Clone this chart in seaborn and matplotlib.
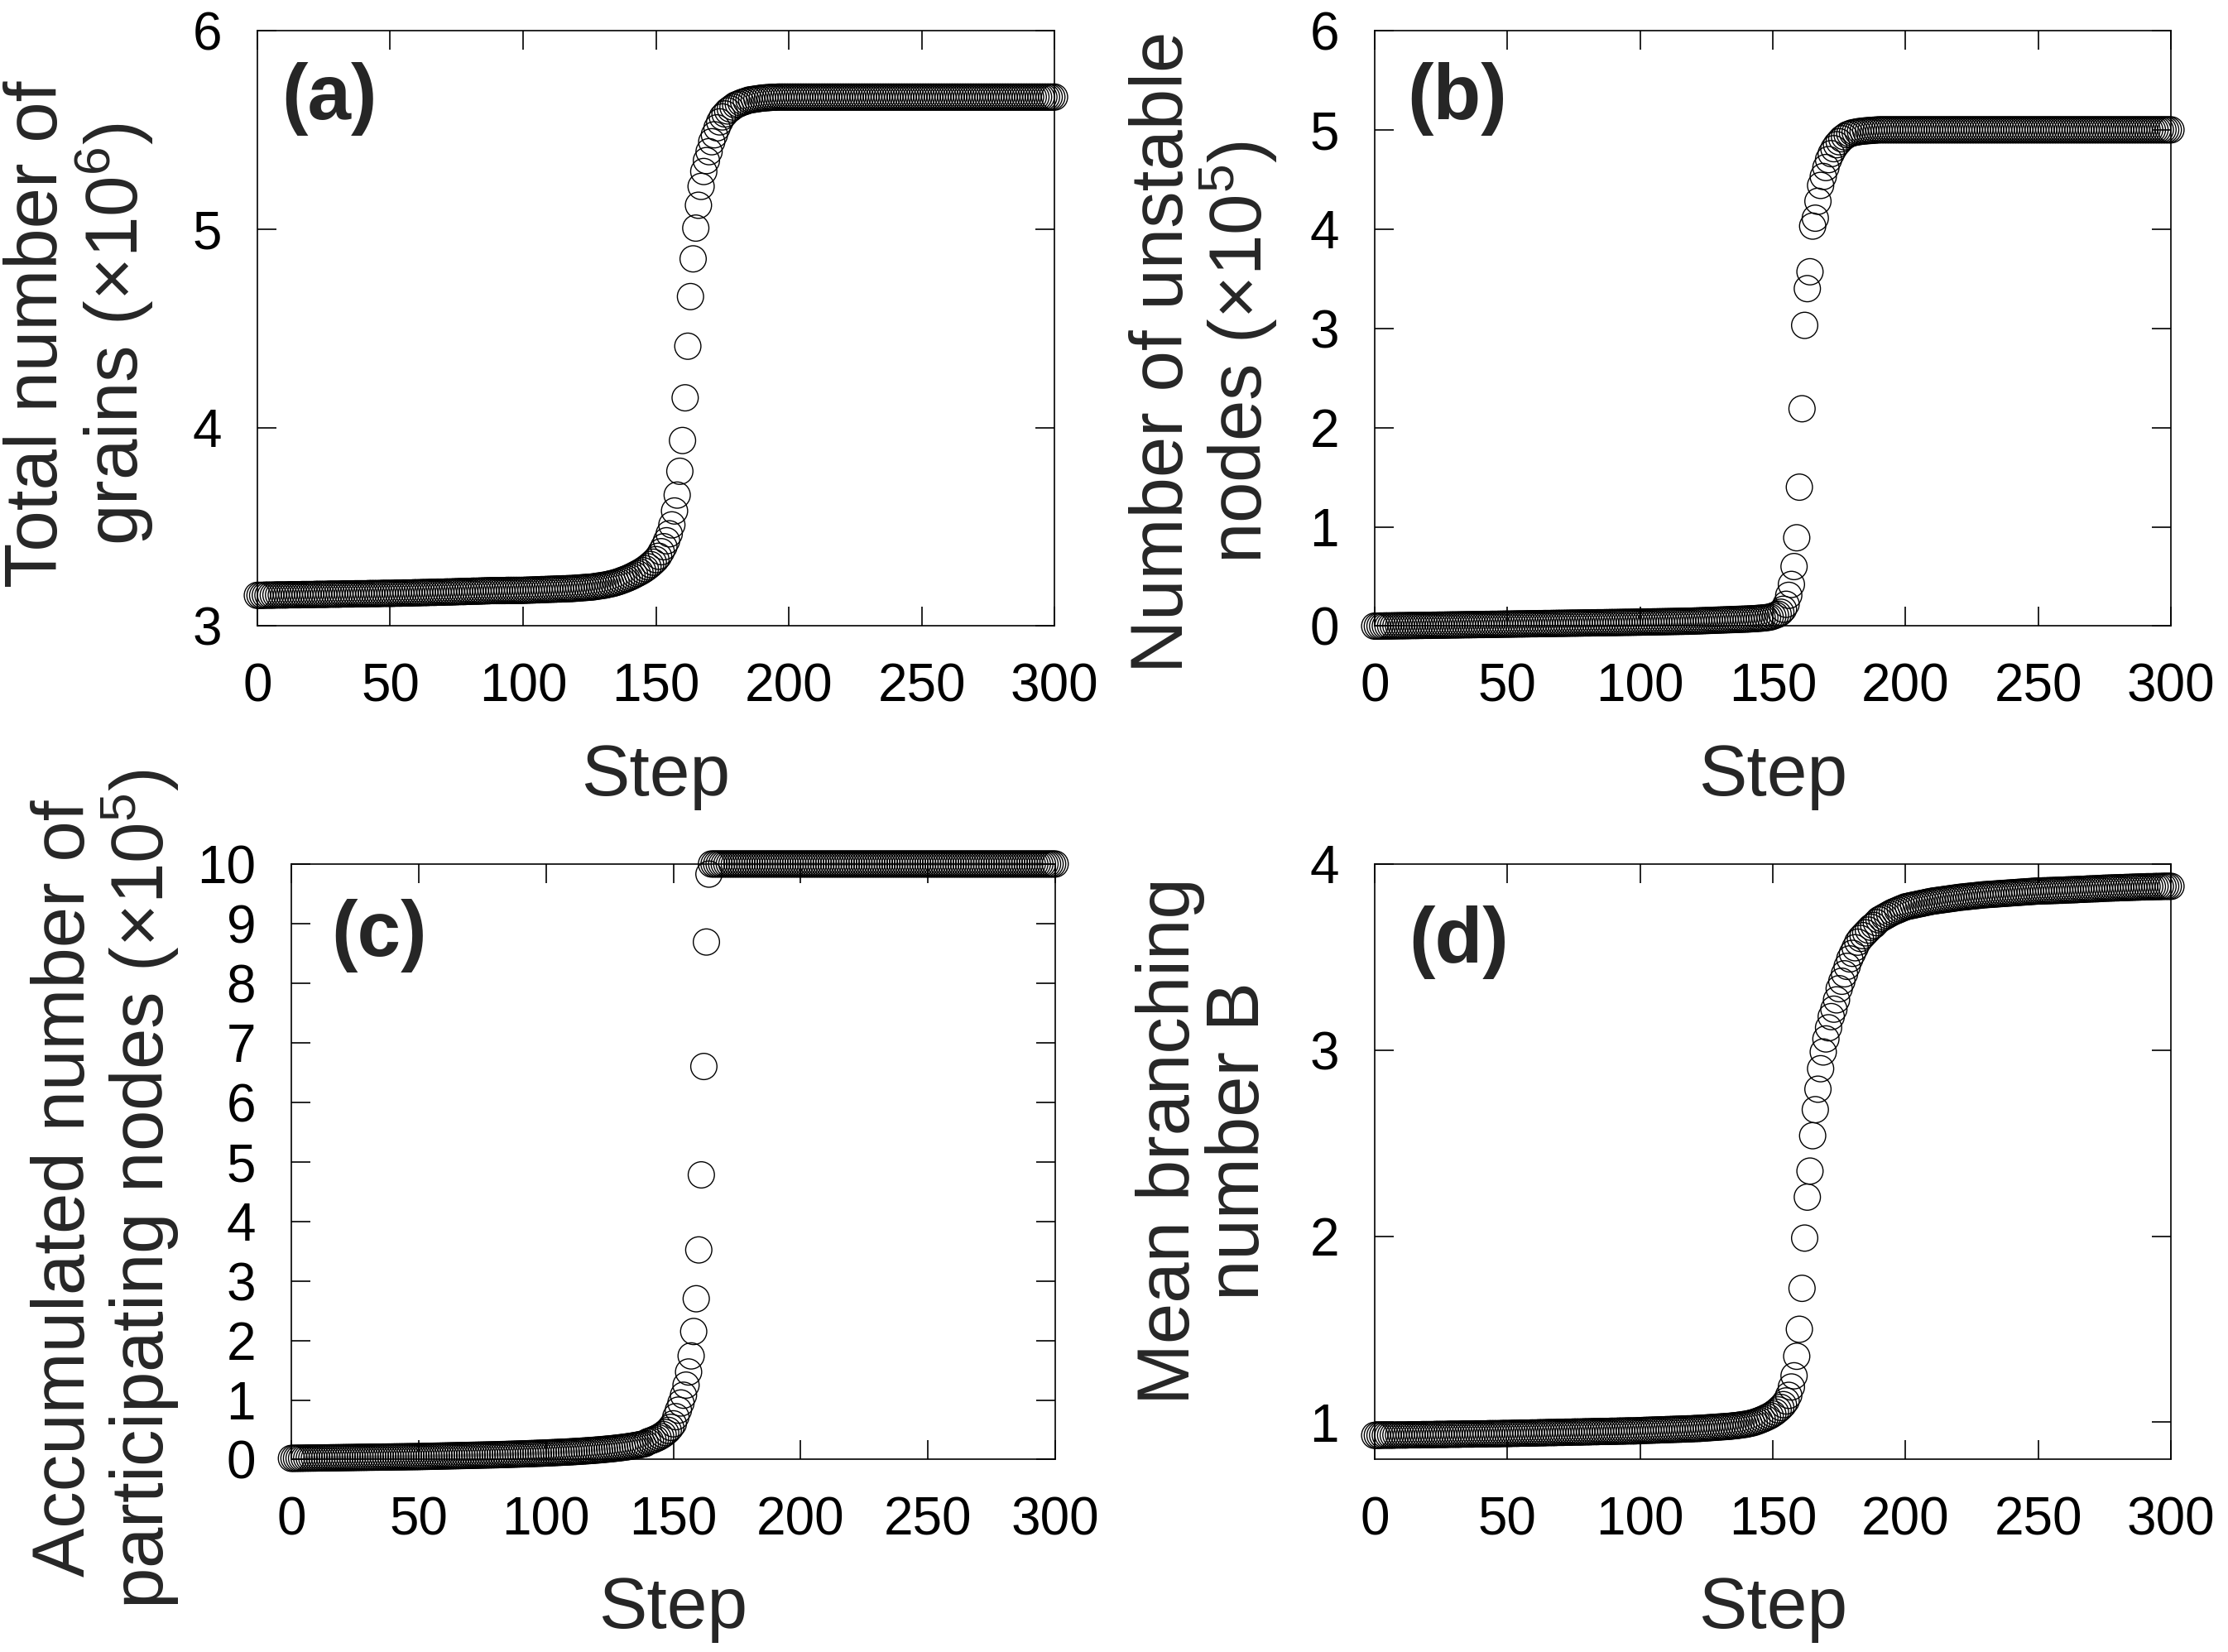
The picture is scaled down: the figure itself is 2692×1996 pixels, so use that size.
import matplotlib
matplotlib.use("Agg")
import matplotlib.pyplot as plt
import seaborn as sns

# step index of every point (one point per step)
steps = list(range(301))

# (a) total number of grains, x10^6
grains = [
    3.155, 3.155, 3.155, 3.156, 3.156, 3.156, 3.156, 3.157, 3.157, 3.157,
    3.157, 3.157, 3.158, 3.158, 3.158, 3.158, 3.158, 3.159, 3.159, 3.159,
    3.159, 3.159, 3.160, 3.160, 3.160, 3.160, 3.160, 3.161, 3.161, 3.161,
    3.161, 3.161, 3.162, 3.162, 3.162, 3.162, 3.162, 3.163, 3.163, 3.163,
    3.163, 3.163, 3.164, 3.164, 3.164, 3.164, 3.164, 3.165, 3.165, 3.165,
    3.165, 3.165, 3.166, 3.166, 3.166, 3.167, 3.167, 3.167, 3.167, 3.168,
    3.168, 3.168, 3.169, 3.169, 3.169, 3.170, 3.170, 3.170, 3.171, 3.171,
    3.171, 3.172, 3.172, 3.172, 3.173, 3.173, 3.174, 3.174, 3.174, 3.175,
    3.175, 3.176, 3.176, 3.176, 3.177, 3.177, 3.178, 3.178, 3.179, 3.179,
    3.179, 3.179, 3.179, 3.179, 3.180, 3.180, 3.180, 3.180, 3.180, 3.180,
    3.180, 3.181, 3.181, 3.182, 3.182, 3.183, 3.183, 3.184, 3.184, 3.185,
    3.185, 3.186, 3.186, 3.187, 3.187, 3.188, 3.188, 3.189, 3.189, 3.190,
    3.191, 3.192, 3.193, 3.194, 3.195, 3.196, 3.197, 3.199, 3.201, 3.203,
    3.205, 3.207, 3.210, 3.213, 3.216, 3.220, 3.224, 3.229, 3.234, 3.239,
    3.245, 3.251, 3.258, 3.265, 3.272, 3.280, 3.289, 3.299, 3.310, 3.322,
    3.335, 3.352, 3.375, 3.400, 3.430, 3.465, 3.510, 3.580, 3.660, 3.780,
    3.935, 4.150, 4.410, 4.660, 4.850, 5.005, 5.120, 5.215, 5.290, 5.345,
    5.390, 5.440, 5.475, 5.510, 5.540, 5.565, 5.580, 5.595, 5.605, 5.615,
    5.625, 5.630, 5.636, 5.641, 5.645, 5.650, 5.652, 5.654, 5.656, 5.658,
    5.660, 5.661, 5.662, 5.663, 5.664, 5.664, 5.665, 5.665, 5.665, 5.665,
    5.665, 5.665, 5.665, 5.665, 5.665, 5.665, 5.665, 5.665, 5.665, 5.665,
    5.665, 5.665, 5.665, 5.665, 5.665, 5.665, 5.665, 5.665, 5.665, 5.665,
    5.665, 5.665, 5.665, 5.665, 5.665, 5.665, 5.665, 5.665, 5.665, 5.665,
    5.665, 5.665, 5.665, 5.665, 5.665, 5.665, 5.665, 5.665, 5.665, 5.665,
    5.665, 5.665, 5.665, 5.665, 5.665, 5.665, 5.665, 5.665, 5.665, 5.665,
    5.665, 5.665, 5.665, 5.665, 5.665, 5.665, 5.665, 5.665, 5.665, 5.665,
    5.665, 5.665, 5.665, 5.665, 5.665, 5.665, 5.665, 5.665, 5.665, 5.665,
    5.665, 5.665, 5.665, 5.665, 5.665, 5.665, 5.665, 5.665, 5.665, 5.665,
    5.665, 5.665, 5.665, 5.665, 5.665, 5.665, 5.665, 5.665, 5.665, 5.665,
    5.665, 5.665, 5.665, 5.665, 5.665, 5.665, 5.665, 5.665, 5.665, 5.665,
    5.665,
]

# (b) number of unstable nodes, x10^5
unstable = [
    0.000, 0.000, 0.001, 0.001, 0.002, 0.002, 0.002, 0.003, 0.003, 0.004,
    0.004, 0.004, 0.005, 0.005, 0.006, 0.006, 0.006, 0.007, 0.007, 0.008,
    0.008, 0.008, 0.009, 0.009, 0.010, 0.010, 0.010, 0.011, 0.011, 0.012,
    0.012, 0.012, 0.013, 0.013, 0.014, 0.014, 0.014, 0.015, 0.015, 0.016,
    0.016, 0.016, 0.017, 0.017, 0.018, 0.018, 0.018, 0.019, 0.019, 0.020,
    0.020, 0.020, 0.021, 0.021, 0.022, 0.022, 0.022, 0.023, 0.023, 0.024,
    0.024, 0.024, 0.025, 0.025, 0.026, 0.026, 0.026, 0.027, 0.027, 0.028,
    0.028, 0.028, 0.029, 0.029, 0.030, 0.030, 0.030, 0.031, 0.031, 0.032,
    0.032, 0.032, 0.033, 0.033, 0.034, 0.034, 0.034, 0.035, 0.035, 0.036,
    0.036, 0.036, 0.037, 0.037, 0.038, 0.038, 0.038, 0.039, 0.039, 0.040,
    0.040, 0.041, 0.041, 0.042, 0.042, 0.043, 0.043, 0.044, 0.044, 0.045,
    0.045, 0.046, 0.046, 0.047, 0.047, 0.048, 0.048, 0.049, 0.049, 0.050,
    0.051, 0.052, 0.053, 0.054, 0.055, 0.056, 0.057, 0.058, 0.059, 0.060,
    0.061, 0.062, 0.063, 0.064, 0.065, 0.066, 0.067, 0.068, 0.069, 0.070,
    0.071, 0.072, 0.074, 0.075, 0.077, 0.079, 0.081, 0.084, 0.087, 0.091,
    0.100, 0.110, 0.120, 0.140, 0.170, 0.220, 0.310, 0.420, 0.600, 0.890,
    1.400, 2.190, 3.030, 3.400, 3.570, 4.030, 4.110, 4.280, 4.440, 4.530,
    4.620, 4.700, 4.760, 4.810, 4.850, 4.880, 4.910, 4.930, 4.950, 4.960,
    4.970, 4.975, 4.980, 4.984, 4.987, 4.990, 4.992, 4.994, 4.996, 4.998,
    5.000, 5.000, 5.000, 5.000, 5.000, 5.000, 5.000, 5.000, 5.000, 5.000,
    5.000, 5.000, 5.000, 5.000, 5.000, 5.000, 5.000, 5.000, 5.000, 5.000,
    5.000, 5.000, 5.000, 5.000, 5.000, 5.000, 5.000, 5.000, 5.000, 5.000,
    5.000, 5.000, 5.000, 5.000, 5.000, 5.000, 5.000, 5.000, 5.000, 5.000,
    5.000, 5.000, 5.000, 5.000, 5.000, 5.000, 5.000, 5.000, 5.000, 5.000,
    5.000, 5.000, 5.000, 5.000, 5.000, 5.000, 5.000, 5.000, 5.000, 5.000,
    5.000, 5.000, 5.000, 5.000, 5.000, 5.000, 5.000, 5.000, 5.000, 5.000,
    5.000, 5.000, 5.000, 5.000, 5.000, 5.000, 5.000, 5.000, 5.000, 5.000,
    5.000, 5.000, 5.000, 5.000, 5.000, 5.000, 5.000, 5.000, 5.000, 5.000,
    5.000, 5.000, 5.000, 5.000, 5.000, 5.000, 5.000, 5.000, 5.000, 5.000,
    5.000, 5.000, 5.000, 5.000, 5.000, 5.000, 5.000, 5.000, 5.000, 5.000,
    5.000,
]

# (c) accumulated number of participating nodes, x10^5
accumulated = [
    0.020, 0.021, 0.021, 0.022, 0.022, 0.023, 0.024, 0.024, 0.025, 0.025,
    0.026, 0.027, 0.027, 0.028, 0.028, 0.029, 0.030, 0.030, 0.031, 0.031,
    0.032, 0.033, 0.033, 0.034, 0.034, 0.035, 0.036, 0.036, 0.037, 0.037,
    0.038, 0.039, 0.039, 0.040, 0.040, 0.041, 0.042, 0.042, 0.043, 0.043,
    0.044, 0.045, 0.045, 0.046, 0.046, 0.047, 0.048, 0.048, 0.049, 0.049,
    0.050, 0.051, 0.052, 0.053, 0.054, 0.055, 0.056, 0.057, 0.058, 0.059,
    0.060, 0.061, 0.062, 0.063, 0.064, 0.065, 0.066, 0.067, 0.068, 0.069,
    0.070, 0.071, 0.072, 0.073, 0.074, 0.075, 0.076, 0.077, 0.078, 0.079,
    0.080, 0.081, 0.083, 0.084, 0.085, 0.087, 0.088, 0.089, 0.091, 0.092,
    0.094, 0.095, 0.097, 0.098, 0.100, 0.101, 0.103, 0.105, 0.106, 0.108,
    0.110, 0.112, 0.114, 0.116, 0.118, 0.120, 0.122, 0.124, 0.126, 0.128,
    0.131, 0.133, 0.136, 0.138, 0.141, 0.144, 0.147, 0.150, 0.153, 0.156,
    0.160, 0.163, 0.167, 0.171, 0.175, 0.179, 0.183, 0.188, 0.193, 0.198,
    0.203, 0.209, 0.215, 0.221, 0.228, 0.235, 0.243, 0.251, 0.260, 0.270,
    0.300, 0.314, 0.330, 0.348, 0.368, 0.392, 0.420, 0.452, 0.490, 0.540,
    0.600, 0.720, 0.830, 0.950, 1.080, 1.250, 1.470, 1.740, 2.150, 2.700,
    3.520, 4.780, 6.600, 8.690, 9.830, 10.00, 10.00, 10.00, 10.00, 10.00,
    10.00, 10.00, 10.00, 10.00, 10.00, 10.00, 10.00, 10.00, 10.00, 10.00,
    10.00, 10.00, 10.00, 10.00, 10.00, 10.00, 10.00, 10.00, 10.00, 10.00,
    10.00, 10.00, 10.00, 10.00, 10.00, 10.00, 10.00, 10.00, 10.00, 10.00,
    10.00, 10.00, 10.00, 10.00, 10.00, 10.00, 10.00, 10.00, 10.00, 10.00,
    10.00, 10.00, 10.00, 10.00, 10.00, 10.00, 10.00, 10.00, 10.00, 10.00,
    10.00, 10.00, 10.00, 10.00, 10.00, 10.00, 10.00, 10.00, 10.00, 10.00,
    10.00, 10.00, 10.00, 10.00, 10.00, 10.00, 10.00, 10.00, 10.00, 10.00,
    10.00, 10.00, 10.00, 10.00, 10.00, 10.00, 10.00, 10.00, 10.00, 10.00,
    10.00, 10.00, 10.00, 10.00, 10.00, 10.00, 10.00, 10.00, 10.00, 10.00,
    10.00, 10.00, 10.00, 10.00, 10.00, 10.00, 10.00, 10.00, 10.00, 10.00,
    10.00, 10.00, 10.00, 10.00, 10.00, 10.00, 10.00, 10.00, 10.00, 10.00,
    10.00, 10.00, 10.00, 10.00, 10.00, 10.00, 10.00, 10.00, 10.00, 10.00,
    10.00, 10.00, 10.00, 10.00, 10.00, 10.00, 10.00, 10.00, 10.00, 10.00,
    10.00,
]

# (d) mean branching number B
branching = [
    0.930, 0.930, 0.930, 0.931, 0.931, 0.931, 0.931, 0.931, 0.932, 0.932,
    0.932, 0.932, 0.932, 0.933, 0.933, 0.933, 0.933, 0.933, 0.934, 0.934,
    0.934, 0.934, 0.934, 0.935, 0.935, 0.935, 0.935, 0.935, 0.936, 0.936,
    0.936, 0.936, 0.936, 0.937, 0.937, 0.937, 0.937, 0.937, 0.938, 0.938,
    0.938, 0.938, 0.938, 0.939, 0.939, 0.939, 0.939, 0.939, 0.940, 0.940,
    0.940, 0.940, 0.941, 0.941, 0.941, 0.942, 0.942, 0.942, 0.942, 0.943,
    0.943, 0.943, 0.944, 0.944, 0.944, 0.945, 0.945, 0.945, 0.945, 0.946,
    0.946, 0.946, 0.947, 0.947, 0.947, 0.948, 0.948, 0.948, 0.948, 0.949,
    0.949, 0.949, 0.950, 0.950, 0.950, 0.951, 0.951, 0.951, 0.951, 0.952,
    0.952, 0.952, 0.953, 0.953, 0.953, 0.954, 0.954, 0.954, 0.954, 0.955,
    0.955, 0.956, 0.957, 0.957, 0.958, 0.958, 0.959, 0.959, 0.960, 0.960,
    0.961, 0.961, 0.962, 0.962, 0.963, 0.963, 0.964, 0.964, 0.965, 0.965,
    0.966, 0.967, 0.967, 0.968, 0.969, 0.970, 0.971, 0.972, 0.973, 0.974,
    0.975, 0.976, 0.977, 0.978, 0.979, 0.981, 0.982, 0.984, 0.986, 0.988,
    0.990, 0.993, 0.996, 1.000, 1.005, 1.010, 1.016, 1.022, 1.029, 1.036,
    1.045, 1.055, 1.067, 1.080, 1.095, 1.115, 1.145, 1.190, 1.250, 1.355,
    1.500, 1.720, 1.990, 2.210, 2.350, 2.540, 2.680, 2.790, 2.900, 2.990,
    3.060, 3.120, 3.180, 3.220, 3.270, 3.330, 3.370, 3.410, 3.450, 3.490,
    3.520, 3.550, 3.580, 3.600, 3.615, 3.630, 3.645, 3.660, 3.670, 3.685,
    3.700, 3.708, 3.716, 3.724, 3.732, 3.740, 3.746, 3.752, 3.758, 3.764,
    3.770, 3.773, 3.776, 3.779, 3.782, 3.785, 3.788, 3.791, 3.794, 3.797,
    3.800, 3.802, 3.804, 3.806, 3.808, 3.810, 3.812, 3.814, 3.816, 3.818,
    3.820, 3.822, 3.823, 3.825, 3.826, 3.828, 3.829, 3.831, 3.832, 3.834,
    3.835, 3.836, 3.837, 3.838, 3.839, 3.840, 3.841, 3.842, 3.843, 3.844,
    3.845, 3.846, 3.847, 3.848, 3.849, 3.850, 3.851, 3.852, 3.853, 3.854,
    3.855, 3.855, 3.856, 3.856, 3.857, 3.857, 3.858, 3.858, 3.859, 3.859,
    3.860, 3.861, 3.861, 3.862, 3.862, 3.863, 3.864, 3.864, 3.865, 3.866,
    3.866, 3.867, 3.867, 3.868, 3.869, 3.870, 3.870, 3.871, 3.871, 3.872,
    3.872, 3.873, 3.873, 3.874, 3.874, 3.875, 3.875, 3.876, 3.876, 3.877,
    3.877, 3.878, 3.878, 3.878, 3.879, 3.879, 3.879, 3.880, 3.880, 3.880,
    3.880,
]

panel_tags = ["(a)", "(b)", "(c)", "(d)"]
y_titles = [
    "Total number of\ngrains (×10$^{6}$)",
    "Number of unstable\nnodes (×10$^{5}$)",
    "Accumulated number of\nparticipating nodes (×10$^{5}$)",
    "Mean branching\nnumber B",
]
y_ticks = [[3, 4, 5, 6], [0, 1, 2, 3, 4, 5, 6], list(range(11)), [1, 2, 3, 4]]
y_limits = [(3, 6), (0, 6), (0, 10), (0.8, 4.0)]
x_ticks = [0, 50, 100, 150, 200, 250, 300]

sns.set_theme(style="ticks")
plt.rcParams["font.family"] = ["Liberation Sans", "DejaVu Sans"]
plt.rcParams["mathtext.default"] = "regular"

fig = plt.figure(figsize=(13.46, 9.98), dpi=200)

# axes boxes [left, bottom, width, height] in figure fraction
boxes = [
    [0.1155, 0.621, 0.3578, 0.3605],
    [0.6170, 0.621, 0.3574, 0.3605],
    [0.1308, 0.1165, 0.3428, 0.3605],
    [0.6170, 0.1165, 0.3574, 0.3605],
]
tag_pos = [(0.030, 0.947), (0.041, 0.947), (0.0525, 0.941), (0.043, 0.93)]
label_pos = [(-0.128, 0.49), (-0.119, 0.46), (-0.144, 0.455), (-0.126, 0.535)]

series = [grains, unstable, accumulated, branching]

for i, vals in enumerate(series):
    ax = fig.add_axes(boxes[i])
    sns.scatterplot(x=steps, y=vals, ax=ax, marker="o", s=130,
                    facecolor="none", edgecolor="black", linewidth=0.5,
                    clip_on=False, zorder=3)
    ax.set_xlim(0, 300)
    ax.set_ylim(*y_limits[i])
    ax.set_xticks(x_ticks)
    ax.set_yticks(y_ticks[i])
    ax.tick_params(direction="in", length=8.3, width=0.6, top=True, right=True,
                   labelsize=23, colors="black")
    ax.tick_params(axis="x", pad=16)
    ax.tick_params(axis="y", pad=15.5)
    for sp in ax.spines.values():
        sp.set_linewidth(0.6)
        sp.set_color("black")
    ax.set_xlabel("Step", fontsize=31.5)
    ax.xaxis.set_label_coords(0.5, -0.196)
    ax.set_ylabel(y_titles[i], fontsize=32, linespacing=1.0)
    ax.yaxis.set_label_coords(*label_pos[i])
    ax.text(tag_pos[i][0], tag_pos[i][1], panel_tags[i], transform=ax.transAxes,
            fontsize=34, fontweight="bold", ha="left", va="top")

fig.savefig("out.png", dpi=200)
